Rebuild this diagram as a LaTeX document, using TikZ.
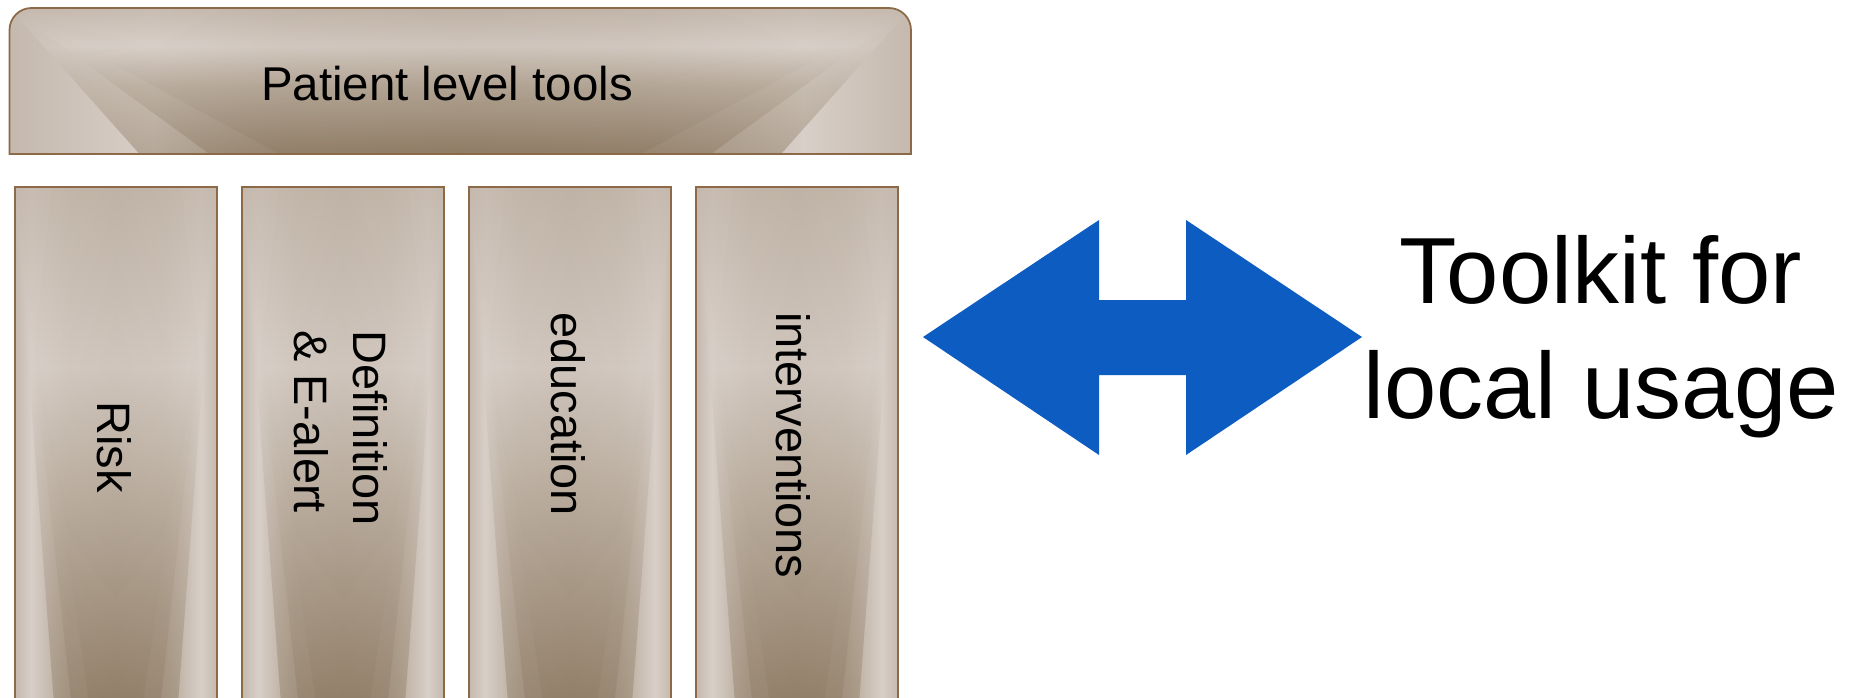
\documentclass[tikz,border=0pt]{standalone}
\usepackage{fontspec}
\setmainfont{Liberation Sans}

\definecolor{tanedge}{HTML}{8C6A48}
\definecolor{tantop}{HTML}{C5B9AE}
\definecolor{tanlight}{HTML}{D8CFC8}
\definecolor{tanmid}{HTML}{B3A595}
\definecolor{tandeep}{HTML}{A49481}
\definecolor{tandark}{HTML}{8B7860}
\definecolor{arrowblue}{HTML}{0C5CC2}

% metal look of the boxes
\pgfdeclarehorizontalshading{colside}{100bp}{color(0bp)=(tantop); color(25bp)=(tantop);
  color(29bp)=(tanlight); color(38bp)=(tanmid); color(50bp)=(tandeep); color(62bp)=(tanmid);
  color(71bp)=(tanlight); color(75bp)=(tantop); color(100bp)=(tantop)}
\pgfdeclareverticalshading{colmid}{100bp}{color(0bp)=(tandark); color(25bp)=(tandark);
  color(42bp)=(tanmid); color(58bp)=(tanlight); color(75bp)=(tantop); color(100bp)=(tantop)}
\pgfdeclarehorizontalshading{topside}{100bp}{color(0bp)=(tantop); color(25bp)=(tantop);
  color(33bp)=(tanlight); color(40bp)=(tanmid); color(50bp)=(tandeep); color(60bp)=(tanmid);
  color(69bp)=(tanlight); color(75bp)=(tantop); color(100bp)=(tantop)}
\pgfdeclareverticalshading{topmid}{100bp}{color(0bp)=(tandark); color(25bp)=(tandark);
  color(48bp)=(tanmid); color(62bp)=(tanlight); color(75bp)=(tantop); color(100bp)=(tantop)}

\begin{document}
\begin{tikzpicture}[x=0.02cm,y=-0.02cm,
boxline/.style={draw=tanedge, line width=1pt},
coltext/.style={rotate=-90, anchor=west, inner sep=0pt, align=left,
  font=\fontsize{26.7pt}{33.6pt}\selectfont},
toptext/.style={inner sep=0pt, font=\fontsize{27pt}{32pt}\selectfont},
bigtext/.style={inner sep=0pt, align=center, font=\fontsize{53.5pt}{65.4pt}\selectfont}]
\useasboundingbox (0,0) rectangle (1860,697);
\clip (0,0) rectangle (1860,697);

% top box
\begin{scope}
\clip (9.5,154) -- (9.5,30) arc[start angle=180, end angle=270, radius=22]
  -- (889,8) arc[start angle=270, end angle=360, radius=22] -- (911,154) -- cycle;
\shade[shading=topside] (9.5,8) rectangle (911,154);
\foreach \d in {130,200,270}
  \shade[shading=topmid, opacity=0.45] (9.5,8) -- (911,8) -- (911-\d,154) -- (9.5+\d,154) -- cycle;
\end{scope}
\draw[boxline] (9.5,154) -- (9.5,30) arc[start angle=180, end angle=270, radius=22]
  -- (889,8) arc[start angle=270, end angle=360, radius=22] -- (911,154) -- cycle;
\node[toptext] (patient) at (447,84) {Patient level tools};

% columns
\foreach \x in {15,242,469,696}{
  \shade[shading=colside] (\x,187) rectangle ++(202,530);
  \foreach \d in {40,58,76}
    \shade[shading=colmid, opacity=0.45] (\x,187) -- ++(202,0) -- ++(-\d,530) -- ++(-202+2*\d,0) -- cycle;
  \draw[boxline] (\x,187) rectangle ++(202,530);
}
\node[coltext] (risk) at (114,401) {Risk};
\node[coltext] (definition) at (341,330) {Definition\\\& E-alert};
\node[coltext] (education) at (568,312) {education};
\node[coltext] (interventions) at (793,312) {interventions};

% two way arrow
\fill[arrowblue] (923,337) -- (1099,220) -- (1099,300) -- (1186,300) -- (1186,220)
  -- (1362,337) -- (1186,455) -- (1186,375) -- (1099,375) -- (1099,455) -- cycle;

\node[bigtext] (toolkit) at (1601,337) {Toolkit for\\local usage};
\end{tikzpicture}
\end{document}
